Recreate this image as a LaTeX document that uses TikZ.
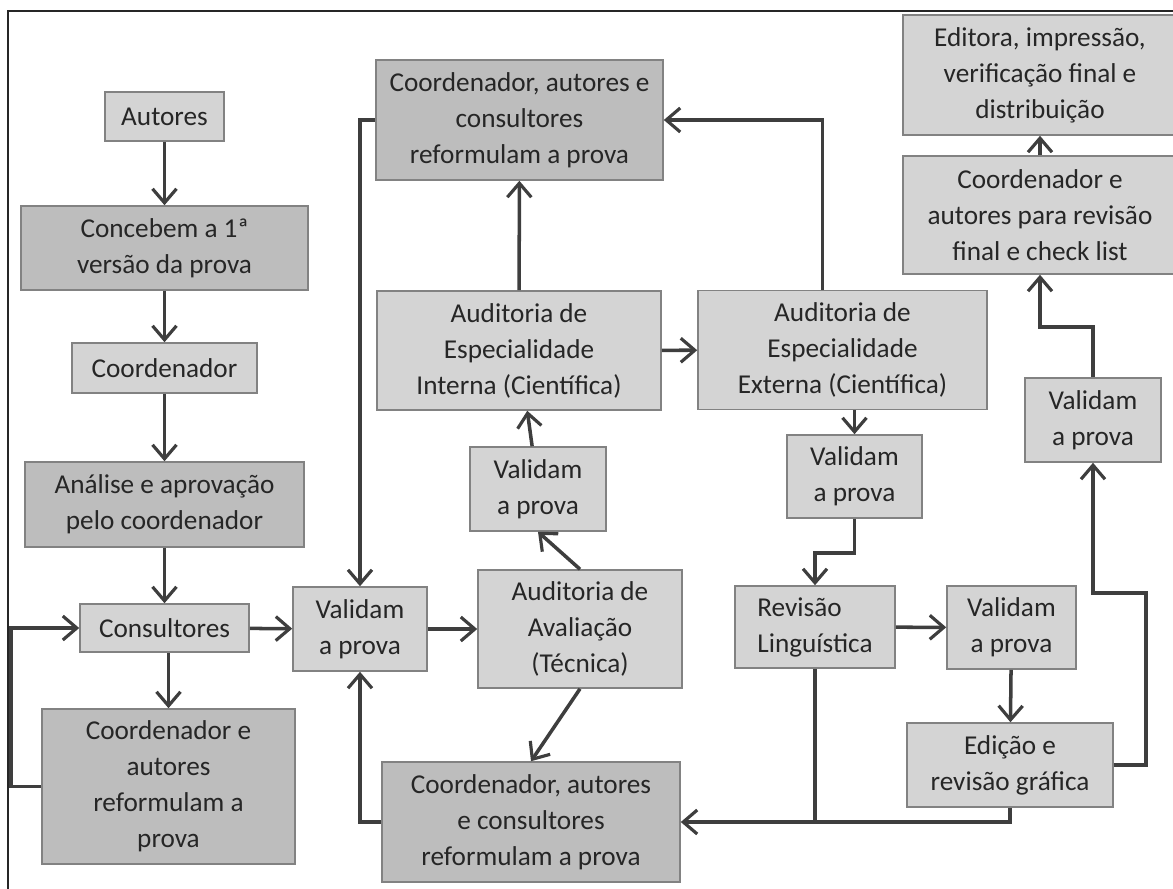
\documentclass[tikz,border=0pt]{standalone}
\usepackage{fontspec}
\setmainfont{Carlito}
\usepackage{tikz}
\usetikzlibrary{arrows.meta}
\usepackage{xcolor}

\definecolor{boxlight}{RGB}{212,212,212}
\definecolor{boxdark}{RGB}{189,189,189}
\definecolor{edgegray}{RGB}{130,130,130}
\definecolor{linegray}{RGB}{62,62,62}
\newcommand{\boxfont}{\fontsize{15.5}{20.5}\selectfont}

\begin{document}
\begin{tikzpicture}[
    x=0.02cm, y=-0.02cm,
    every node/.style={font=\boxfont, text=black!85},
    lightbox/.style 2 args={draw=edgegray, line width=0.9pt, fill=boxlight, align=center,
        inner sep=2pt, minimum width=#1*0.02cm, minimum height=#2*0.02cm},
    darkbox/.style 2 args={lightbox={#1}{#2}, fill=boxdark},
    arrow/.style={-{Straight Barb[length=2.8mm, width=4.8mm, line width=1.8pt]}, line width=2pt, linegray},
    link/.style={line width=2pt, linegray}
]
\useasboundingbox (0,0) rectangle (1173,889);

% Frame
\draw[line width=1.1pt, black!85] (8,889) -- (8,11) -- (1173,11);

% Left column
\node[lightbox={119}{49}] (autores) at (164.5,116.5) {Autores};
\node[darkbox={287}{84}] (concebem) at (164.5,248) {Concebem a 1ª\\versão da prova};
\node[lightbox={185}{50}] (coord) at (164.5,368) {Coordenador};
\node[darkbox={279}{85}] (analise) at (164.5,504.5) {Análise e aprovação\\pelo coordenador};
\node[lightbox={169}{48}] (consult) at (164.5,628) {Consultores};
\node[darkbox={253}{155}] (reformA) at (168.5,786.5) {Coordenador e\\autores\\reformulam a\\prova};

% Middle
\node[lightbox={134}{84}] (valA) at (360,629) {Validam\\a prova};
\node[lightbox={204}{118}] (tecnica) at (580,629) {Auditoria de\\Avaliação\\(Técnica)};
\node[lightbox={136}{84}] (valB) at (538,489) {Validam\\a prova};
\node[lightbox={284}{119}] (interna) at (519,350.5) {Auditoria de\\Especialidade\\Interna (Científica)};
\node[darkbox={287}{120}] (reformB) at (519.5,120) {Coordenador, autores e\\consultores\\reformulam a prova};
\node[darkbox={298}{120}] (reformC) at (531,822) {Coordenador, autores\\e consultores\\reformulam a prova};

% Right
\node[lightbox={289}{119}] (externa) at (842.5,350) {Auditoria de\\Especialidade\\Externa (Científica)};
\node[lightbox={135}{83}] (valC) at (854.5,476.5) {Validam\\a prova};
\node[lightbox={160}{82}, align=left] (linguist) at (815,627) {Revisão\\Linguística};
\node[lightbox={129}{83}] (valD) at (1011.5,627.5) {Validam\\a prova};
\node[lightbox={206}{84}] (edicao) at (1010,765) {Edição e\\revisão gráfica};
\node[lightbox={136}{84}] (valE) at (1093,420) {Validam\\a prova};
\node[lightbox={274}{118}] (final) at (1040,215) {Coordenador e\\autores para revisão\\final e check list};
\node[lightbox={274}{120}] (editora) at (1040,75) {Editora, impressão,\\verificação final e\\distribuição};

% Left column arrows
\draw[arrow] (autores) -- (concebem);
\draw[arrow] (concebem) -- (coord);
\draw[arrow] (coord) -- (analise);
\draw[arrow] (analise) -- (consult);
\draw[arrow] (reformA.north |- consult.south) -- (reformA.north);
\draw[arrow] (reformA.west) -- ++(-30,0) |- (consult.west);
\draw[arrow] (consult) -- (valA);

% Validation loops
\draw[arrow] (reformB.west) -| (valA.north);
\draw[arrow] (reformC.west) -| (valA.south);
\draw[arrow] (valA) -- (tecnica);
\draw[arrow] (tecnica.north) -- (valB.south);
\draw[arrow] (tecnica.south) -- (reformC.north);
\draw[arrow] (valB) -- (interna);
\draw[arrow] (interna) -- (reformB);
\draw[arrow] (interna) -- (externa);
\draw[arrow] ([xshift=-0.4cm]externa.north) |- (reformB.east);
\draw[arrow] (valC.north |- externa.south) -- (valC.north);
\draw[arrow] (valC.south) -- ++(0,34) -| (linguist.north);
\draw[arrow] (linguist) -- (valD);
\draw[arrow] (valD) -- (edicao);
\draw[arrow] (edicao.south) |- (reformC.east);
\draw[link] (linguist.south) -- (linguist.south |- reformC.east);

% Final steps
\draw[arrow] (edicao.east) -| ++(32,-172) -| (valE.south);
\draw[arrow] (valE.north) -- ++(0,-50) -| (final.south);
\draw[arrow] (final) -- (editora);

\end{tikzpicture}
\end{document}
